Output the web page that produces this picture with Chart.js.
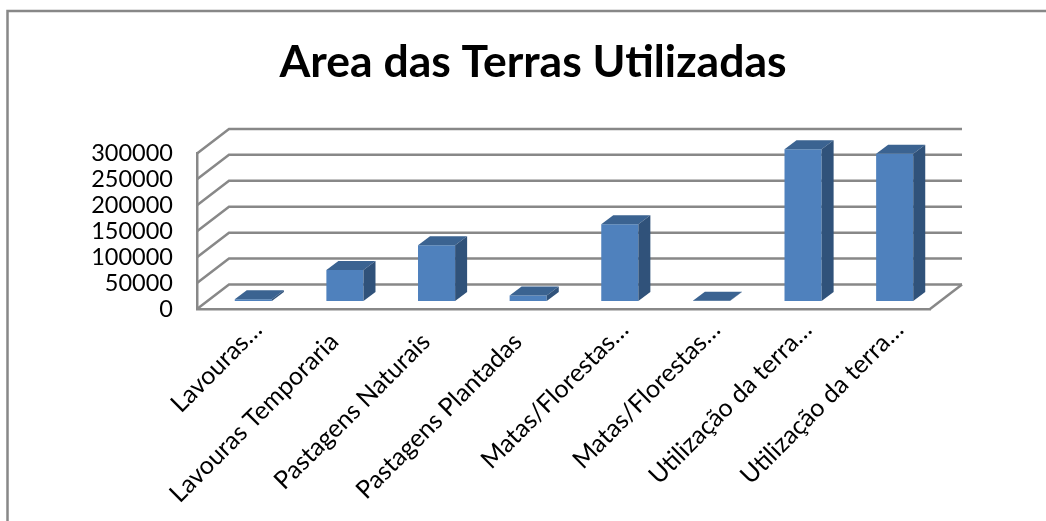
<!DOCTYPE html>
<html lang="en">
<head>
    <meta charset="UTF-8">
    <title>Area das Terras Utilizadas</title>
    <script src="https://cdn.jsdelivr.net/npm/chart.js"></script>
    <style>
        html, body {
            margin: 0;
            padding: 0;
            background: #ffffff;
            overflow: hidden;
        }
        .chart-box {
            position: relative;
            width: 1046px;
            height: 521px;
        }
    </style>
</head>
<body>
    <div class="chart-box"><canvas id="areaChart"></canvas></div>

    <script>
        const categories = [
            'Lavouras…',
            'Lavouras Temporaria',
            'Pastagens Naturais',
            'Pastagens Plantadas',
            'Matas/Florestas…',
            'Matas/Florestas…',
            'Utilização da terra…',
            'Utilização da terra…'
        ];
        const areaValues = [3500, 60000, 107500, 10500, 148000, 500, 292500, 284000];
        const yTicks = [0, 50000, 100000, 150000, 200000, 250000, 300000];

        const gridColor = '#888888';
        const faceColor = '#4f81bd';
        const topColor = '#3b6391';
        const sideColor = '#30527a';

        // depth of the fake 3d box, and how far into it the bars stand
        const wallDx = 32, wallDy = 24.5;
        const barDx = 10.5, barDy = 8;
        const barDepthX = 12, barDepthY = 9;

        // back wall, left wall and floor, drawn from the y scale ticks
        const wallsPlugin = {
            id: 'walls',
            beforeDatasetsDraw(chart) {
                const { ctx, chartArea, scales } = chart;
                ctx.save();
                ctx.strokeStyle = gridColor;
                ctx.lineWidth = 2.5;
                yTicks.forEach(v => {
                    const y = scales.y.getPixelForValue(v);
                    ctx.beginPath();
                    ctx.moveTo(chartArea.left, y);
                    ctx.lineTo(chartArea.left + wallDx, y - wallDy);
                    ctx.lineTo(chartArea.right + wallDx, y - wallDy);
                    ctx.stroke();
                });
                ctx.beginPath();
                ctx.moveTo(chartArea.right, chartArea.bottom);
                ctx.lineTo(chartArea.right + wallDx, chartArea.bottom - wallDy);
                ctx.stroke();
                ctx.restore();
            }
        };

        // shifts the library's bars into the box and adds the top and side faces
        const depthPlugin = {
            id: 'depth',
            beforeDatasetDraw(chart) {
                chart.ctx.save();
                chart.ctx.translate(barDx, -barDy);
            },
            afterDatasetDraw(chart, args) {
                const ctx = chart.ctx;
                args.meta.data.forEach(bar => {
                    const left = bar.x - bar.width / 2;
                    const right = bar.x + bar.width / 2;
                    ctx.fillStyle = topColor;
                    ctx.beginPath();
                    ctx.moveTo(left, bar.y);
                    ctx.lineTo(left + barDepthX, bar.y - barDepthY);
                    ctx.lineTo(right + barDepthX, bar.y - barDepthY);
                    ctx.lineTo(right, bar.y);
                    ctx.closePath();
                    ctx.fill();
                    ctx.fillStyle = sideColor;
                    ctx.beginPath();
                    ctx.moveTo(right, bar.y);
                    ctx.lineTo(right + barDepthX, bar.y - barDepthY);
                    ctx.lineTo(right + barDepthX, bar.base - barDepthY);
                    ctx.lineTo(right, bar.base);
                    ctx.closePath();
                    ctx.fill();
                });
                ctx.restore();
            }
        };

        // frame runs off the picture on the right and at the bottom
        const framePlugin = {
            id: 'frame',
            beforeDraw(chart) {
                const ctx = chart.ctx;
                ctx.save();
                ctx.strokeStyle = gridColor;
                ctx.lineWidth = 2.5;
                ctx.beginPath();
                ctx.moveTo(7.5, 521);
                ctx.lineTo(7.5, 11);
                ctx.lineTo(1046, 11);
                ctx.stroke();
                ctx.restore();
            }
        };

        // the title sits left of the plot centre in the original
        const titleShift = {
            id: 'titleShift',
            afterLayout(chart) {
                chart.titleBlock.left = 136;
            }
        };

        // truncated labels sit further up their slant than the full ones
        const labelShift = {
            id: 'labelShift',
            beforeDraw(chart) {
                const items = chart.scales.x.getLabelItems(chart.chartArea);
                if (items.shifted) return;
                items.shifted = true;
                items.forEach(item => {
                    const cut = item.label.endsWith('…');
                    item.options.translation[0] += cut ? 9 : -6;
                    item.options.translation[1] += cut ? -10 : 2;
                });
            }
        };

        new Chart(document.getElementById('areaChart'), {
            type: 'bar',
            data: {
                labels: categories,
                datasets: [{
                    data: areaValues,
                    backgroundColor: faceColor,
                    barPercentage: 0.405,
                    categoryPercentage: 1
                }]
            },
            plugins: [titleShift, labelShift, framePlugin, wallsPlugin, depthPlugin],
            options: {
                responsive: true,
                maintainAspectRatio: false,
                animation: false,
                layout: { padding: { left: 80, right: 116, top: 0, bottom: 0 } },
                plugins: {
                    legend: { display: false },
                    tooltip: { enabled: false },
                    title: {
                        display: true,
                        text: 'Area das Terras Utilizadas',
                        color: '#000000',
                        font: { family: 'Lato', size: 44.5, weight: 'bold' },
                        padding: { top: 36, bottom: 64 }
                    }
                },
                scales: {
                    x: {
                        afterFit(scale) { scale.height = 212; },
                        grid: { display: false },
                        border: { color: gridColor, width: 2.5 },
                        ticks: {
                            color: '#000000',
                            font: { family: 'Lato', size: 25 },
                            minRotation: 45,
                            maxRotation: 45,
                            autoSkip: false,
                            labelOffset: 6,
                            padding: 8
                        }
                    },
                    y: {
                        min: 0,
                        max: 300000,
                        afterFit(scale) { scale.width = 117; },
                        afterBuildTicks(scale) { scale.ticks = yTicks.map(v => ({ value: v })); },
                        grid: { display: false },
                        border: { color: gridColor, width: 2.5 },
                        ticks: {
                            color: '#000000',
                            font: { family: 'Lato', size: 23.5 },
                            autoSkip: false,
                            padding: 16,
                            callback: v => String(v)
                        }
                    }
                }
            }
        });
    </script>
</body>
</html>
